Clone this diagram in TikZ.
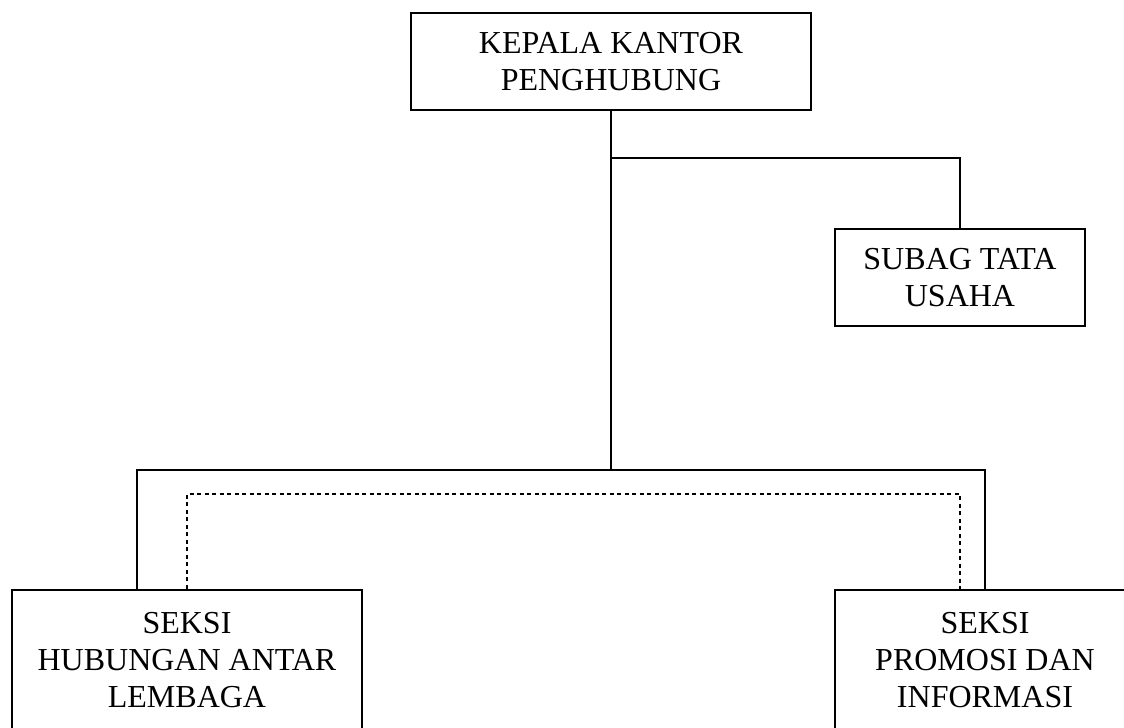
\documentclass[tikz,border=0pt]{standalone}
\usepackage{fontspec}
\setmainfont{Liberation Serif}
\usetikzlibrary{calc}
\tikzset{
  box/.style={draw=black, line width=2.4bp, inner sep=0pt, align=center,
    font=\fontsize{32bp}{37bp}\selectfont},
  conn/.style={draw=black, line width=1.8bp},
  dotconn/.style={draw=black, line width=1.8bp, dash pattern=on 4bp off 3.5bp}
}
\begin{document}
\begin{tikzpicture}[x=1bp, y=-1bp]
\useasboundingbox (0,0) rectangle (1124,728);
\clip (0,0) rectangle (1124,728);
\node[box, minimum width=400bp, minimum height=97bp] (top) at (611,61.5) {KEPALA KANTOR\\PENGHUBUNG};
\node[box, minimum width=250bp, minimum height=97bp] (subag) at (960,277.5) {SUBAG TATA\\USAHA};
\node[box, minimum width=350bp, minimum height=140bp] (left) at (187,660) {SEKSI\\HUBUNGAN ANTAR\\LEMBAGA};
\node[box, minimum width=300bp, minimum height=140bp] (right) at (985,660) {SEKSI\\PROMOSI DAN\\INFORMASI};
\coordinate (j1) at (611,158);
\coordinate (j2) at (611,470);
\coordinate (dm) at (611,494);
\coordinate (ls) at ($(left.north)+(-50,0)$);
\coordinate (rd) at ($(right.north)+(-25,0)$);
\draw[conn] (top.south) -- (j2);
\draw[conn] (j1) -| (subag.north);
\draw[conn] (ls) |- (j2) -| (right.north);
\draw[dotconn] (left.north) |- (dm) -| (rd);
\end{tikzpicture}
\end{document}
